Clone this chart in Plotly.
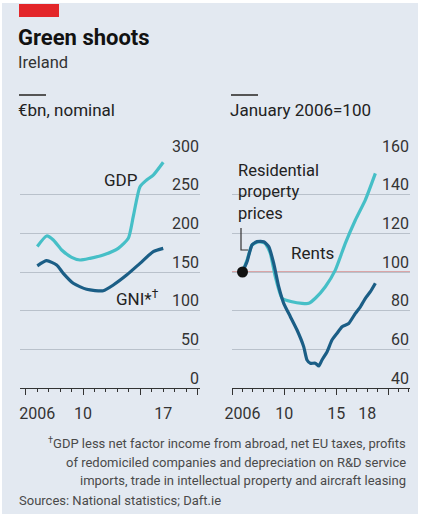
import plotly.graph_objects as go

# ---------------- data ----------------
gdp_years = [2006.0, 2006.82, 2007.4, 2008.13, 2009.0, 2009.73, 2010.6, 2011.76, 2013.07, 2013.95, 2014.38, 2014.97, 2015.55, 2016.13, 2017.0]
gdp_values = [183, 196.6, 191.4, 178.5, 169, 165.5, 167.7, 172, 180.6, 193.6, 221.5, 260.3, 269, 275.4, 292]

gni_years = [2006.0, 2006.82, 2007.69, 2008.27, 2009.14, 2010.31, 2011.76, 2012.64, 2013.8, 2014.97, 2016.13, 2017.0]
gni_values = [158, 164.6, 159, 148.3, 135.4, 127.6, 125.8, 133.2, 146, 161.2, 176.3, 180.6]

rent_years = [2006.0, 2006.43, 2006.91, 2007.56, 2008.19, 2008.67, 2009.15, 2009.8, 2010.76, 2011.72, 2012.37, 2013.0, 2013.96, 2014.92, 2015.88, 2016.85, 2017.81, 2018.77]
rent_values = [100, 106, 114, 115.7, 114.8, 109.7, 97.6, 86.4, 84.6, 83.8, 83.8, 86.4, 92.4, 101, 114.8, 126.9, 137.3, 151]

house_years = [2006.0, 2006.43, 2006.91, 2007.39, 2008.04, 2008.52, 2009.0, 2009.48, 2009.96, 2010.6, 2011.24, 2011.88, 2012.2, 2012.52, 2013.0, 2013.33, 2013.64, 2014.13, 2014.6, 2015.09, 2015.57, 2016.21, 2016.85, 2017.33, 2017.81, 2018.29, 2018.77]
house_values = [100, 105.3, 114, 115.7, 115.7, 113.1, 104.5, 92.4, 83.8, 76.9, 70, 61.4, 54.5, 52.8, 52.8, 51.4, 54.5, 58.8, 64.8, 68.3, 71.7, 73.4, 78.6, 82, 86.4, 89.8, 94.2]

base_point = (2006.0, 100)

left_yticks = [0, 50, 100, 150, 200, 250, 300]
right_yticks = [40, 60, 80, 100, 120, 140, 160]
left_xlabels_vals = [2006, 2010, 2017]
left_xlabels_text = ["2006", "10", "17"]
right_xlabels_vals = [2006, 2010, 2015, 2018]
right_xlabels_text = ["2006", "10", "15", "18"]

# ---------------- style ----------------
W, H = 424, 517
BG = "#e3e9f1"
LIGHT = "#46bfc7"
DARK = "#1b5e86"
GRID = "#b9c1cb"
TXT = "#222222"
FONT = "Roboto"


def px(x):
    return x / W


def py(y):
    return 1 - y / H


fig = go.Figure()

fig.add_trace(go.Scatter(x=gdp_years, y=gdp_values, mode="lines", line=dict(color=LIGHT, width=3.2, shape="spline", smoothing=0.6), xaxis="x", yaxis="y", hoverinfo="skip"))
fig.add_trace(go.Scatter(x=gni_years, y=gni_values, mode="lines", line=dict(color=DARK, width=3.2, shape="spline", smoothing=0.6), xaxis="x", yaxis="y", hoverinfo="skip"))
fig.add_trace(go.Scatter(x=rent_years, y=rent_values, mode="lines", line=dict(color=LIGHT, width=3.2, shape="spline", smoothing=0.5), xaxis="x2", yaxis="y2", hoverinfo="skip"))
fig.add_trace(go.Scatter(x=house_years, y=house_values, mode="lines", line=dict(color=DARK, width=3.2, shape="spline", smoothing=0.5), xaxis="x2", yaxis="y2", hoverinfo="skip"))
fig.add_trace(go.Scatter(x=[base_point[0]], y=[base_point[1]], mode="markers", marker=dict(color="#111111", size=11), xaxis="x2", yaxis="y2", hoverinfo="skip"))
# empty traces so the label-only overlay axes get drawn
fig.add_trace(go.Scatter(x=[], y=[], mode="lines", xaxis="x3", yaxis="y", hoverinfo="skip"))
fig.add_trace(go.Scatter(x=[], y=[], mode="lines", xaxis="x4", yaxis="y2", hoverinfo="skip"))

ydom = [py(388), py(156)]
xdom1 = [px(20), px(200)]
xdom2 = [px(232), px(410)]
xr1 = [2004.49, 2020.21]
xr2 = [2004.99, 2022.1]

tickfont = dict(family=FONT, size=16, color="#333333")

def xaxis_ticks(dom, rng, anchor):
    return dict(domain=dom, range=rng, anchor=anchor, showgrid=False, zeroline=False, automargin=False,
                showline=True, linecolor="#333333", linewidth=1,
                ticks="outside", tick0=2005, dtick=5, ticklen=6, tickcolor="#333333", tickwidth=1,
                showticklabels=False,
                minor=dict(ticks="outside", tick0=2005, dtick=1, ticklen=3, tickcolor="#333333", tickwidth=1))

def xaxis_labels(over, rng, anchor, vals, text):
    return dict(overlaying=over, range=rng, anchor=anchor, side="bottom", showgrid=False, zeroline=False,
                automargin=False, showline=False, ticks="", tickmode="array", tickvals=vals, ticktext=text,
                tickfont=tickfont, ticklabelstandoff=14)

def yaxis(dom, rng, anchor, vals):
    return dict(domain=dom, range=rng, anchor=anchor, side="right", showgrid=True, gridcolor=GRID, gridwidth=1,
                zeroline=False, showline=False, ticks="", tickmode="array", tickvals=vals, automargin=False,
                ticklabelposition="inside", ticklabelshift=-10, ticklabeloverflow="allow", tickfont=tickfont,
                ticklabelstandoff=-2)

fig.update_layout(
    width=W, height=H, margin=dict(l=0, r=0, t=0, b=0, autoexpand=False),
    paper_bgcolor=BG, plot_bgcolor=BG, showlegend=False,
    xaxis=xaxis_ticks(xdom1, xr1, "y"),
    yaxis=yaxis(ydom, [0, 300], "x", left_yticks),
    xaxis2=xaxis_ticks(xdom2, xr2, "y2"),
    yaxis2=yaxis(ydom, [40, 160], "x2", right_yticks),
    xaxis3=xaxis_labels("x", xr1, "y", left_xlabels_vals, left_xlabels_text),
    xaxis4=xaxis_labels("x2", xr2, "y2", right_xlabels_vals, right_xlabels_text),
)

white = dict(fillcolor="white", line=dict(width=0), xref="paper", yref="paper", type="rect")
shapes = [
    dict(**white, x0=0, x1=1, y0=py(3), y1=1),
    dict(**white, x0=px(418), x1=1, y0=0, y1=1),
    dict(**white, x0=0, x1=1, y0=0, y1=py(514)),
    dict(**white, x0=0, x1=px(2), y0=0, y1=1),
    dict(type="rect", xref="paper", yref="paper", x0=px(19), x1=px(59), y0=py(17), y1=py(4), fillcolor="#e3262a", line=dict(width=0)),
    dict(type="line", xref="paper", yref="paper", x0=px(19), x1=px(46), y0=py(95), y1=py(95), line=dict(color="#555555", width=2)),
    dict(type="line", xref="paper", yref="paper", x0=px(231), x1=px(258), y0=py(95), y1=py(95), line=dict(color="#555555", width=2)),
    dict(type="line", xref="x2 domain", yref="y2", x0=0, x1=1, y0=100, y1=100, line=dict(color="#d0625f", width=1.2), layer="below"),
    dict(type="path", xref="paper", yref="paper",
         path=f"M {px(241)},{py(228)} L {px(241)},{py(250)} L {px(248)},{py(250)}",
         line=dict(color="#333333", width=1.2)),
]

ann = []
def text(x, y, s, size, color=TXT, xanchor="left", yanchor="middle", bold=False, align="left"):
    ann.append(dict(x=px(x), y=py(y), xref="paper", yref="paper", text=f"<b>{s}</b>" if bold else s,
                    showarrow=False, xanchor=xanchor, yanchor=yanchor, align=align,
                    font=dict(family=FONT, size=size, color=color)))

text(16, 38, "Green shoots", 22, color="#121212", bold=True)
text(16, 63, "Ireland", 16.5, color="#333333")
text(16, 110, "€bn, nominal", 17, color="#222222")
text(228, 110, "January 2006=100", 17, color="#222222")
text(120.5, 180, "GDP", 17, xanchor="center")
text(137, 298, "GNI*<sup>†</sup>", 17, xanchor="center")
text(236, 192, "Residential<br>property<br>prices", 16.5, yanchor="middle")
text(312, 253, "Rents", 17, xanchor="center")
foot = "#4a4a4a"
text(408, 443, "<sup>†</sup>GDP less net factor income from abroad, net EU taxes, profits", 13, color=foot, xanchor="right")
text(408, 462, "of redomiciled companies and depreciation on R&D service", 13, color=foot, xanchor="right")
text(408, 480, "imports, trade in intellectual property and aircraft leasing", 13, color=foot, xanchor="right")
text(17, 500, "Sources: National statistics; Daft.ie", 13, color=foot)

fig.update_layout(shapes=shapes, annotations=ann)
fig.write_html("out.html", config={"displayModeBar": False},
               post_script="document.body.style.margin='0';document.body.style.overflow='hidden';")
